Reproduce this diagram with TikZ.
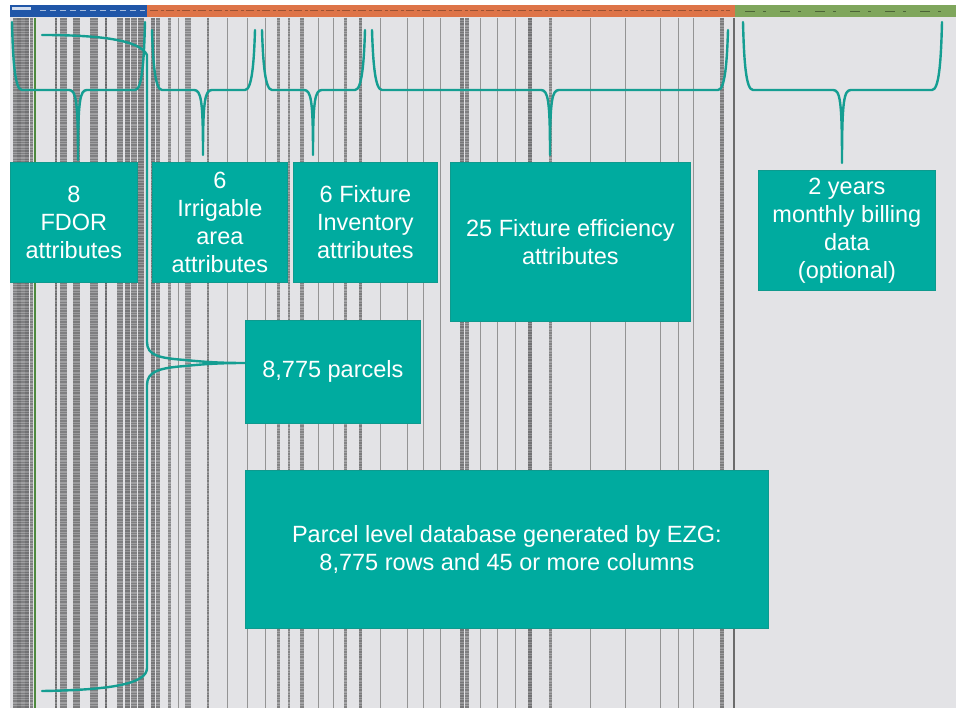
\documentclass[tikz,border=0pt]{standalone}
\usepackage{fontspec}
\setmainfont{Liberation Sans}
\definecolor{bg}{HTML}{E3E3E6}
\definecolor{boxteal}{HTML}{00AB9F}
\definecolor{boxedge}{HTML}{0E9A8E}
\definecolor{bracecol}{HTML}{159E92}
\definecolor{hblue}{HTML}{2056A8}
\definecolor{horange}{HTML}{DE7448}
\definecolor{hgreen}{HTML}{7FA65C}
\definecolor{gridgreen}{HTML}{4E8A3E}
\newcommand{\hbr}[5]{% xl, xr, xtip, ytip, ytop
  \draw[brace] (#1,#5) .. controls (#1+1,62) and (#1+3,90) .. (#1+10,90)
    -- (#3-9,90) .. controls (#3-2,90) and (#3,100) .. (#3,#4)
    .. controls (#3,100) and (#3+2,90) .. (#3+9,90)
    -- (#2-10,90) .. controls (#2-3,90) and (#2-1,62) .. (#2,#5);}
\begin{document}
\begin{tikzpicture}[x=1pt,y=-1pt,
  box/.style={draw=boxedge,line width=0.8pt,fill=boxteal,text=white,align=center,
    inner sep=0pt,anchor=north west,font=\fontsize{23.5}{28}\selectfont},
  brace/.style={draw=bracecol,line width=2.4pt,line join=round,line cap=round},
  gline/.style={line width=0.9pt,black!42},
]
\useasboundingbox (0,0) rectangle (963,708);
\fill[white] (0,0) rectangle (963,708);
\fill[bg] (10,5) rectangle (956,708);
% spreadsheet texture: text columns (solid band + darker dashed overlay)
\foreach \x/\w/\s [evaluate=\s as \t using int(\s+14)] in {
  15/4/30,19/4/36,23/4/30,27/4/36,31/3/30,
  56/2/38,63/7/30,76/7/32,94/8/30,106/2/40,120/6/30,127/5/34,134/6/30,141/6/34,
  153/4/34,158/4/30,169/3/26,188/6/26,208/2/32,278/3/28,289/2/28,302/4/28,
  345/3/28,360/3/32,462/4/34,467/4/30,530/4/36,550/3/28,722/4/32}
  {\fill[black!\s!bg] (\x-\w/2,18) rectangle (\x+\w/2,708);
   \draw[line width=\w pt,black!\t!bg,dash pattern=on 2pt off 1.5pt on 1pt off 1pt] (\x,18) -- (\x,708);}
\draw[line width=2pt,gridgreen] (35,18) -- (35,708);
\foreach \x in {178,227,247,265,318,333,380,407,423,440,480,497,515,590,625,660,678,693}
  {\draw[gline] (\x,18) -- (\x,708);}
\draw[line width=1.2pt,black!58] (734,18) -- (734,708);
% header bar
\fill[hblue] (10,5) rectangle (147,17);
\fill[horange] (147,5) rectangle (735,17);
\fill[hgreen] (735,5) rectangle (956,17);
\fill[white!80!hblue] (12,7) rectangle (31,10);
\draw[white!60!hblue,line width=1pt,dash pattern=on 6pt off 4pt] (40,11) -- (145,11);
\draw[horange!70!black,line width=1pt,dash pattern=on 8pt off 3pt on 3pt off 2pt] (150,11) -- (730,11);
\draw[hgreen!60!black,line width=0.8pt,dash pattern=on 10pt off 8pt on 3pt off 14pt] (745,11) -- (950,11);
% braces
\hbr{12}{145}{78}{160}{22}
\hbr{152}{255}{203}{155}{30}
\hbr{262}{365}{313}{155}{30}
\hbr{372}{728}{550}{155}{30}
\hbr{743}{942}{842}{163}{22}
\draw[brace] (42,35) .. controls (100,35) and (140,40) .. (147,55) -- (147,342)
  .. controls (147,356) and (160,358) .. (185,360)
  .. controls (205,362) and (220,363) .. (245,363)
  .. controls (220,363) and (205,364) .. (185,366)
  .. controls (160,368) and (147,371) .. (147,385)
  -- (147,668) .. controls (147,684) and (110,690) .. (42,691);
% boxes
\node[box,minimum width=127pt,minimum height=120pt] (fdor) at (10,162) {8\\FDOR\\attributes};
\node[box,minimum width=135pt,minimum height=120pt] (irr) at (152,162) {6\\Irrigable\\area\\attributes};
\node[box,minimum width=144pt,minimum height=120pt] (inv) at (293,162) {6 Fixture\\Inventory\\attributes};
\node[box,minimum width=240pt,minimum height=159pt] (eff) at (450,162) {25 Fixture efficiency\\attributes};
\node[box,minimum width=177pt,minimum height=120pt] (bill) at (758,170) {2 years\\monthly billing\\data\\(optional)};
\node[box,minimum width=175pt,minimum height=103pt] (parc) at (245,320) {8,775 parcels};
\node[box,minimum width=523pt,minimum height=158pt] (db) at (245,470) {Parcel level database generated by EZG:\\8,775 rows and 45 or more columns};
\end{tikzpicture}
\end{document}
